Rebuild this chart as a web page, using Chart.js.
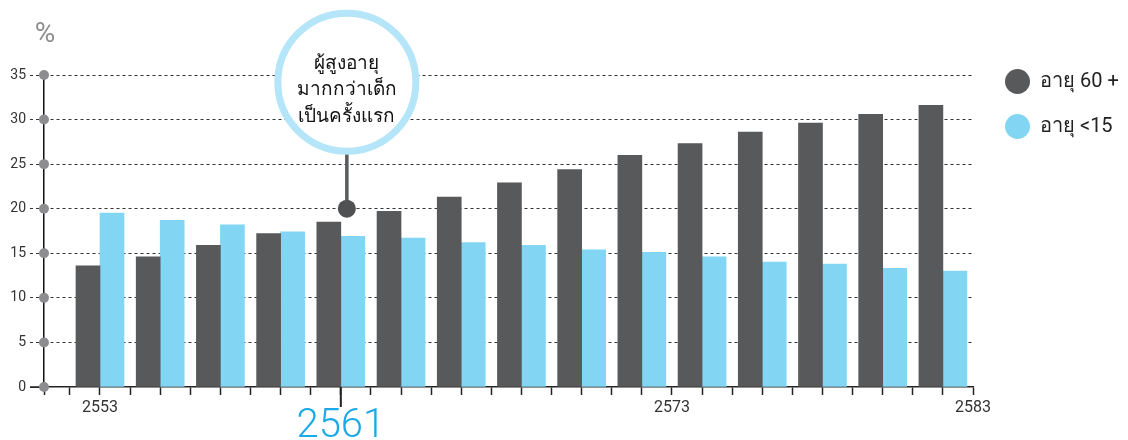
<!DOCTYPE html>
<html>
<head>
<meta charset="utf-8">
<script src="https://cdn.jsdelivr.net/npm/chart.js@4.4.1/dist/chart.umd.min.js"></script>
<style>
  html, body { margin: 0; padding: 0; background: #fff; }
  #wrap { width: 1128px; height: 440px; }
</style>
</head>
<body>
<div id="wrap"><canvas id="myChart" width="1128" height="440"></canvas></div>
<script>
// Data
const years = ['2553', '2555', '2557', '2559', '2561', '2563', '2565', '2567',
  '2569', '2571', '2573', '2575', '2577', '2579', '2581'];
const elderly = [13.6, 14.6, 15.9, 17.2, 18.5, 19.7, 21.3, 22.9, 24.4, 26.0, 27.3, 28.6, 29.6, 30.6, 31.6];
const children = [19.5, 18.7, 18.2, 17.4, 16.9, 16.7, 16.2, 15.9, 15.4, 15.1, 14.6, 14.0, 13.8, 13.3, 13.0];
const seriesNames = ['อายุ 60 +', 'อายุ <15'];
const seriesColors = ['#58595b', '#82d6f3'];

// one tick per year, 2552 .. 2582
const firstTick = 2552;
const tickLabels = ['', '2553', '', '', '', '', '', '', '', '2561', '', '', '', '', '', '',
  '', '', '', '', '2573', '', '', '', '', '', '', '', '', '', '2583'];
const highlightYear = 2561;

// callout: the year the two lines cross
const calloutLines = ['ผู้สูงอายุ', 'มากกว่าเด็ก', 'เป็นครั้งแรก'];
const crossYear = 2561.2;
const crossValue = 20;

const FONT = 'Roboto, "Noto Sans", "DejaVu Sans", sans-serif';
Chart.defaults.font.family = FONT;

const toPoints = (vals) => vals.map((v, i) => ({ x: Number(years[i]), y: v }));

const decorations = {
  id: 'decorations',
  afterDraw(chart) {
    const { ctx, chartArea, scales: { x, y } } = chart;
    ctx.save();

    // x axis runs a bit past the y axis on the left
    ctx.strokeStyle = '#222';
    ctx.lineWidth = 1.5;
    ctx.beginPath();
    ctx.moveTo(30, chartArea.bottom);
    ctx.lineTo(chartArea.left, chartArea.bottom);
    ctx.stroke();

    // grey dots on the y axis
    ctx.fillStyle = '#8d8d8f';
    y.ticks.forEach((t) => {
      ctx.beginPath();
      ctx.arc(chartArea.left, y.getPixelForValue(t.value), 5, 0, Math.PI * 2);
      ctx.fill();
    });

    // long tick under the highlighted year
    const hx = x.getPixelForValue(highlightYear);
    ctx.strokeStyle = '#222';
    ctx.lineWidth = 2;
    ctx.beginPath();
    ctx.moveTo(hx, chartArea.bottom);
    ctx.lineTo(hx, chartArea.bottom + 20);
    ctx.stroke();

    // unit label
    ctx.fillStyle = '#8e8e8e';
    ctx.font = '28px ' + FONT;
    ctx.textAlign = 'center';
    ctx.textBaseline = 'middle';
    ctx.fillText('%', chartArea.left + 1, 35);

    // callout bubble + pin
    const cx = x.getPixelForValue(crossYear);
    const dotY = y.getPixelForValue(crossValue);
    const cy = y.getPixelForValue(34.2);
    const r = 69;
    ctx.strokeStyle = '#5a5b5d';
    ctx.lineWidth = 3.5;
    ctx.beginPath();
    ctx.moveTo(cx, cy + r);
    ctx.lineTo(cx, dotY);
    ctx.stroke();
    ctx.fillStyle = '#505153';
    ctx.beginPath();
    ctx.arc(cx, dotY, 9, 0, Math.PI * 2);
    ctx.fill();

    ctx.fillStyle = '#fff';
    ctx.strokeStyle = '#b4e5f8';
    ctx.lineWidth = 7;
    ctx.beginPath();
    ctx.arc(cx, cy, r, 0, Math.PI * 2);
    ctx.fill();
    ctx.stroke();

    ctx.fillStyle = '#111';
    ctx.font = '19px ' + FONT;
    calloutLines.forEach((line, i) => {
      ctx.fillText(line, cx, cy - 18 + i * 26.5);
    });

    // legend
    ctx.textAlign = 'left';
    ctx.font = '20px ' + FONT;
    chart.data.datasets.forEach((ds, i) => {
      const ly = 81.5 + i * 45;
      ctx.fillStyle = ds.backgroundColor;
      ctx.beginPath();
      ctx.arc(1017.5, ly, 12.5, 0, Math.PI * 2);
      ctx.fill();
      ctx.fillStyle = '#222';
      ctx.fillText(ds.label, 1040, ly);
    });

    ctx.restore();
  }
};

const ctx = document.querySelector('#myChart').getContext('2d');
const myChart = new Chart(ctx, {
  type: 'bar',
  data: {
    datasets: [
      { label: seriesNames[0], data: toPoints(elderly), backgroundColor: seriesColors[0] },
      { label: seriesNames[1], data: toPoints(children), backgroundColor: seriesColors[1] }
    ]
  },
  options: {
    responsive: false,
    animation: false,
    barThickness: 24,
    borderWidth: 0,
    layout: { padding: { left: 0, right: 155, top: 75, bottom: 0 } },
    plugins: { legend: { display: false }, tooltip: { enabled: false } },
    scales: {
      x: {
        type: 'linear',
        offset: false,
        min: 2551.14,
        max: 2582,
        afterBuildTicks: (scale) => {
          scale.ticks = [{ value: scale.min }].concat(
            tickLabels.map((_, i) => ({ value: firstTick + i })));
        },
        afterFit: (scale) => { scale.height = 53; },
        grid: {
          offset: false,
          drawOnChartArea: false,
          drawTicks: true,
          tickLength: 8,
          tickColor: '#222',
          tickWidth: 1.5
        },
        border: { color: '#222', width: 1.5 },
        ticks: {
          autoSkip: false,
          maxRotation: 0,
          padding: 3,
          callback: (v) => Number.isInteger(v) ? (tickLabels[v - firstTick] || '') : '',
          color: (c) => c.tick && c.tick.value === highlightYear ? '#1aabe6' : '#333',
          font: (c) => c.tick && c.tick.value === highlightYear
            ? { size: 40, weight: 300, lineHeight: 1.45 }
            : { size: 16 }
        }
      },
      y: {
        min: 0,
        max: 35,
        afterFit: (scale) => { scale.width = 44; },
        grid: {
          color: (c) => c.tick && c.tick.value === 0 ? 'rgba(0,0,0,0)' : '#333',
          lineWidth: 1,
          tickLength: 14,
          tickColor: '#333',
          tickBorderDash: (c) => c.tick && c.tick.value === 0 ? [] : [3, 3]
        },
        border: { color: '#111', width: 1.5, dash: [3, 3] },
        ticks: {
          stepSize: 5,
          padding: 4,
          color: '#333',
          font: { size: 14 }
        }
      }
    }
  },
  plugins: [decorations]
});
</script>
</body>
</html>
